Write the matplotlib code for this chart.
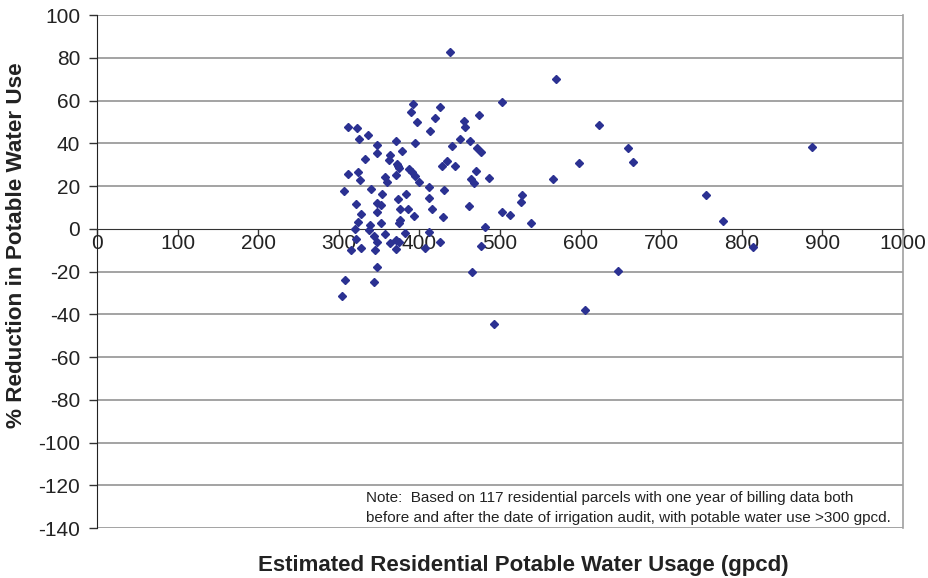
import numpy as np
import matplotlib.pyplot as plt

plt.rcParams['font.family'] = ['Liberation Sans', 'DejaVu Sans']
plt.rcParams['axes.unicode_minus'] = False

# estimated residential potable water usage (gpcd)
usage = [438, 570, 502, 623, 659, 887, 665, 598, 566, 527, 526, 756, 502, 512, 538, 777, 814, 646, 606,
         392, 426, 389, 474, 419, 397, 455, 311, 322, 457, 413, 325, 336, 347, 371, 395, 450, 463, 440,
         471, 476, 347, 379, 364, 332, 362, 372, 375, 434, 428, 444, 387, 391, 395, 399, 311, 324, 326,
         357, 360, 371, 470, 464, 468, 486, 306, 340, 354, 384, 412, 430, 321, 348, 352, 374, 412, 376,
         386, 327, 347, 393, 416, 429, 461, 324, 352, 375, 376, 320, 339, 338, 412, 481, 321, 344, 347,
         357, 364, 371, 375, 382, 426, 315, 327, 345, 371, 407, 476, 347, 465, 308, 344, 304, 493, 373]

# % reduction in potable water use
reduction = [82.6, 70.1, 59.4, 48.5, 37.6, 38.4, 31.4, 30.6, 23.3, 15.8, 12.4, 15.8, 7.7, 6.4, 2.5, 3.5, -8.4, -19.9, -38.2,
             58.4, 56.8, 54.7, 53.4, 51.9, 49.9, 50.6, 47.4, 47.3, 47.4, 45.6, 42.1, 43.7, 39.3, 41.2, 40.3, 42.1, 41.0, 38.6,
             37.9, 35.9, 35.3, 36.4, 34.7, 32.8, 32.0, 30.4, 28.3, 31.9, 29.5, 29.4, 28.1, 26.5, 24.7, 22.0, 25.4, 26.7, 22.8,
             24.4, 21.7, 25.1, 27.2, 23.3, 21.3, 23.7, 17.8, 18.5, 16.3, 16.1, 19.7, 18.3, 11.4, 12.2, 11.1, 13.9, 14.2, 9.4,
             9.4, 6.9, 8.0, 6.1, 9.2, 5.6, 10.8, 3.3, 2.5, 2.5, 4.1, -0.1, 1.8, -0.6, -1.4, 0.8, -4.9, -3.4, -6.0,
             -2.5, -6.8, -5.1, -6.4, -2.2, -6.0, -9.9, -8.8, -9.9, -9.6, -9.2, -7.9, -18.1, -20.2, -24.0, -24.9, -31.3, -44.6, 29.3]

xticks = np.arange(0, 1001, 100)
yticks = np.arange(-140, 101, 20)

fig = plt.figure(figsize=(9.29, 5.78), dpi=100)
ax = fig.add_axes([0.1044, 0.0865, 0.8676, 0.8875])

for yv in yticks:
    if yv != 0:
        ax.axhline(yv, color='#8a8a8a', lw=1.1, zorder=1)

ax.plot(usage, reduction, linestyle='none', marker='D', ms=3.6, color='#2B3192', zorder=3)

ax.set_xlim(0, 1000)
ax.set_ylim(-140, 100)
ax.set_xticks(xticks)
ax.set_yticks(yticks)

ax.spines['bottom'].set_position(('data', 0))
ax.spines['bottom'].set_color('#333333')
ax.spines['left'].set_color('#222222')
ax.spines['top'].set_visible(False)
ax.spines['right'].set_color('#a0a0a0')
ax.spines['right'].set_linewidth(1.2)

ax.tick_params(axis='x', direction='out', length=4, width=1, color='#333333', pad=0,
               labelsize=15, labelcolor='#222222')
ax.tick_params(axis='y', direction='out', length=6, width=1, color='#333333', pad=6,
               labelsize=15, labelcolor='#222222')

fig.text(17 / 929, 1 - 245 / 578, '% Reduction in Potable Water Use', rotation=90,
         ha='center', va='center', fontsize=16.2, fontweight='bold', color='#222222')
fig.text(523 / 929, 1 - 565 / 578, 'Estimated Residential Potable Water Usage (gpcd)',
         ha='center', va='center', fontsize=16, fontweight='bold', color='#222222')

ax.text(334, -130.6, 'Note:  Based on 117 residential parcels with one year of billing data both\n'
        'before and after the date of irrigation audit, with potable water use >300 gpcd.',
        ha='left', va='center', fontsize=11, color='#222222', linespacing=1.5)

plt.savefig('out.png', dpi=100)
